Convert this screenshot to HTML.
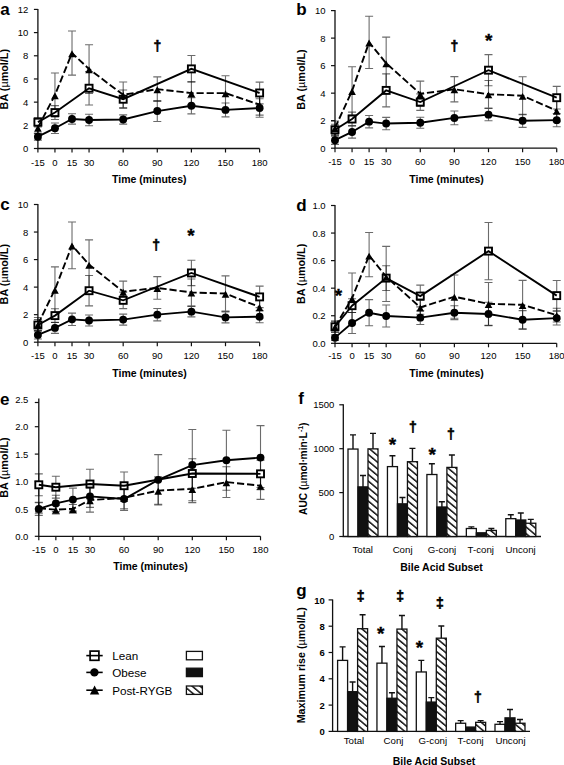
<!DOCTYPE html>
<html><head><meta charset="utf-8"><style>
html,body{margin:0;padding:0;background:#fff;}
svg{display:block;font-family:"Liberation Sans", sans-serif;}
</style></head><body>
<svg width="564" height="765" viewBox="0 0 564 765" font-family='"Liberation Sans", sans-serif' fill="#000">
<defs><pattern id="hatch" patternUnits="userSpaceOnUse" width="5.1" height="5.1" patternTransform="rotate(-50)"><rect width="5.1" height="5.1" fill="#fff"/><rect width="1.5" height="5.1" fill="#111"/></pattern></defs>
<path d="M37.9 8.92V148.5H259.62" fill="none" stroke="#111" stroke-width="1.3"/>
<path d="M33.9 148.5H37.9" stroke="#111" stroke-width="1.2"/>
<text transform="translate(28.4,152.1) scale(1,1.04)" font-size="9.5" font-weight="normal" text-anchor="end" >0</text>
<path d="M33.9 125.32H37.9" stroke="#111" stroke-width="1.2"/>
<text transform="translate(28.4,128.92) scale(1,1.04)" font-size="9.5" font-weight="normal" text-anchor="end" >2</text>
<path d="M33.9 102.14H37.9" stroke="#111" stroke-width="1.2"/>
<text transform="translate(28.4,105.74) scale(1,1.04)" font-size="9.5" font-weight="normal" text-anchor="end" >4</text>
<path d="M33.9 78.96H37.9" stroke="#111" stroke-width="1.2"/>
<text transform="translate(28.4,82.56) scale(1,1.04)" font-size="9.5" font-weight="normal" text-anchor="end" >6</text>
<path d="M33.9 55.78H37.9" stroke="#111" stroke-width="1.2"/>
<text transform="translate(28.4,59.38) scale(1,1.04)" font-size="9.5" font-weight="normal" text-anchor="end" >8</text>
<path d="M33.9 32.6H37.9" stroke="#111" stroke-width="1.2"/>
<text transform="translate(28.4,36.2) scale(1,1.04)" font-size="9.5" font-weight="normal" text-anchor="end" >10</text>
<path d="M33.9 9.42H37.9" stroke="#111" stroke-width="1.2"/>
<text transform="translate(28.4,13.02) scale(1,1.04)" font-size="9.5" font-weight="normal" text-anchor="end" >12</text>
<path d="M37.9 148.5V152.5" stroke="#111" stroke-width="1.2"/>
<text transform="translate(37.9,165.5) scale(1,1.04)" font-size="9.5" font-weight="normal" text-anchor="middle" >-15</text>
<path d="M54.95 148.5V152.5" stroke="#111" stroke-width="1.2"/>
<text transform="translate(54.95,165.5) scale(1,1.04)" font-size="9.5" font-weight="normal" text-anchor="middle" >0</text>
<path d="M72.01 148.5V152.5" stroke="#111" stroke-width="1.2"/>
<text transform="translate(72.01,165.5) scale(1,1.04)" font-size="9.5" font-weight="normal" text-anchor="middle" >15</text>
<path d="M89.06 148.5V152.5" stroke="#111" stroke-width="1.2"/>
<text transform="translate(89.06,165.5) scale(1,1.04)" font-size="9.5" font-weight="normal" text-anchor="middle" >30</text>
<path d="M123.18 148.5V152.5" stroke="#111" stroke-width="1.2"/>
<text transform="translate(123.18,165.5) scale(1,1.04)" font-size="9.5" font-weight="normal" text-anchor="middle" >60</text>
<path d="M157.28 148.5V152.5" stroke="#111" stroke-width="1.2"/>
<text transform="translate(157.28,165.5) scale(1,1.04)" font-size="9.5" font-weight="normal" text-anchor="middle" >90</text>
<path d="M191.4 148.5V152.5" stroke="#111" stroke-width="1.2"/>
<text transform="translate(191.4,165.5) scale(1,1.04)" font-size="9.5" font-weight="normal" text-anchor="middle" >120</text>
<path d="M225.5 148.5V152.5" stroke="#111" stroke-width="1.2"/>
<text transform="translate(225.5,165.5) scale(1,1.04)" font-size="9.5" font-weight="normal" text-anchor="middle" >150</text>
<path d="M259.62 148.5V152.5" stroke="#111" stroke-width="1.2"/>
<text transform="translate(259.62,165.5) scale(1,1.04)" font-size="9.5" font-weight="normal" text-anchor="middle" >180</text>
<text x="149.25" y="183.1" font-size="10.5" font-weight="bold" text-anchor="middle" >Time (minutes)</text>
<text transform="translate(8.3,79.2) rotate(-90)" font-size="10.8" font-weight="bold" text-anchor="middle">BA (<tspan font-weight="normal">µ</tspan>mol/L)</text>
<text x="0.2" y="14.6" font-size="17" font-weight="bold" text-anchor="start" >a</text>
<path d="M37.9 117.55V126.83M33.9 117.55H41.9M33.9 126.83H41.9" stroke="#000" stroke-opacity="0.58" stroke-width="1.1" fill="none"/>
<path d="M54.95 105.62V119.53M50.95 105.62H58.95M50.95 119.53H58.95" stroke="#000" stroke-opacity="0.58" stroke-width="1.1" fill="none"/>
<path d="M89.06 71.43V105.04M85.06 71.43H93.06M85.06 105.04H93.06" stroke="#000" stroke-opacity="0.58" stroke-width="1.1" fill="none"/>
<path d="M123.18 89.97V108.51M119.18 89.97H127.18M119.18 108.51H127.18" stroke="#000" stroke-opacity="0.58" stroke-width="1.1" fill="none"/>
<path d="M191.4 55.43V82.32M187.4 55.43H195.4M187.4 82.32H195.4" stroke="#000" stroke-opacity="0.58" stroke-width="1.1" fill="none"/>
<path d="M259.62 82.09V103.88M255.62 82.09H263.62M255.62 103.88H263.62" stroke="#000" stroke-opacity="0.58" stroke-width="1.1" fill="none"/>
<path d="M37.9 133.2V140.16M33.9 133.2H41.9M33.9 140.16H41.9" stroke="#000" stroke-opacity="0.58" stroke-width="1.1" fill="none"/>
<path d="M54.95 123V133.43M50.95 123H58.95M50.95 133.43H58.95" stroke="#000" stroke-opacity="0.58" stroke-width="1.1" fill="none"/>
<path d="M72.01 113.73V124.16M68.01 113.73H76.01M68.01 124.16H76.01" stroke="#000" stroke-opacity="0.58" stroke-width="1.1" fill="none"/>
<path d="M89.06 114.19V125.78M85.06 114.19H93.06M85.06 125.78H93.06" stroke="#000" stroke-opacity="0.58" stroke-width="1.1" fill="none"/>
<path d="M123.18 114.89V124.16M119.18 114.89H127.18M119.18 124.16H127.18" stroke="#000" stroke-opacity="0.58" stroke-width="1.1" fill="none"/>
<path d="M157.28 100.63V121.5M153.28 100.63H161.28M153.28 121.5H161.28" stroke="#000" stroke-opacity="0.58" stroke-width="1.1" fill="none"/>
<path d="M191.4 97.62V113.85M187.4 97.62H195.4M187.4 113.85H195.4" stroke="#000" stroke-opacity="0.58" stroke-width="1.1" fill="none"/>
<path d="M225.5 102.95V116.86M221.5 102.95H229.5M221.5 116.86H229.5" stroke="#000" stroke-opacity="0.58" stroke-width="1.1" fill="none"/>
<path d="M259.62 98.78V117.32M255.62 98.78H263.62M255.62 117.32H263.62" stroke="#000" stroke-opacity="0.58" stroke-width="1.1" fill="none"/>
<path d="M37.9 121.82V133.41M33.9 121.82H41.9M33.9 133.41H41.9" stroke="#000" stroke-opacity="0.58" stroke-width="1.1" fill="none"/>
<path d="M54.95 73.03V117.07M50.95 73.03H58.95M50.95 117.07H58.95" stroke="#000" stroke-opacity="0.58" stroke-width="1.1" fill="none"/>
<path d="M72.01 31.07V75.11M68.01 31.07H76.01M68.01 75.11H76.01" stroke="#000" stroke-opacity="0.58" stroke-width="1.1" fill="none"/>
<path d="M89.06 44.75V93.43M85.06 44.75H93.06M85.06 93.43H93.06" stroke="#000" stroke-opacity="0.58" stroke-width="1.1" fill="none"/>
<path d="M123.18 82.07V107.57M119.18 82.07H127.18M119.18 107.57H127.18" stroke="#000" stroke-opacity="0.58" stroke-width="1.1" fill="none"/>
<path d="M157.28 76.85V101.42M153.28 76.85H161.28M153.28 101.42H161.28" stroke="#000" stroke-opacity="0.58" stroke-width="1.1" fill="none"/>
<path d="M191.4 81.49V104.67M187.4 81.49H195.4M187.4 104.67H195.4" stroke="#000" stroke-opacity="0.58" stroke-width="1.1" fill="none"/>
<path d="M225.5 75.69V110.46M221.5 75.69H229.5M221.5 110.46H229.5" stroke="#000" stroke-opacity="0.58" stroke-width="1.1" fill="none"/>
<path d="M259.62 94.24V115.1M255.62 94.24H263.62M255.62 115.1H263.62" stroke="#000" stroke-opacity="0.58" stroke-width="1.1" fill="none"/>
<rect x="34.4" y="118.69" width="7" height="7" fill="#fff"/>
<rect x="51.45" y="109.07" width="7" height="7" fill="#fff"/>
<rect x="85.56" y="84.73" width="7" height="7" fill="#fff"/>
<rect x="119.68" y="95.74" width="7" height="7" fill="#fff"/>
<rect x="187.9" y="65.38" width="7" height="7" fill="#fff"/>
<rect x="256.12" y="89.48" width="7" height="7" fill="#fff"/>
<polyline points="37.9,122.19 54.95,112.57 89.06,88.23 123.18,99.24 191.4,68.88 259.62,92.98" fill="none" stroke="#000" stroke-width="1.9" />
<polyline points="37.9,136.68 54.95,128.22 72.01,118.95 89.06,119.99 123.18,119.53 157.28,111.06 191.4,105.73 225.5,109.91 259.62,108.05" fill="none" stroke="#000" stroke-width="1.9" />
<polyline points="37.9,127.62 54.95,95.05 72.01,53.09 89.06,69.09 123.18,94.82 157.28,89.14 191.4,93.08 225.5,93.08 259.62,104.67" fill="none" stroke="#000" stroke-width="1.9" stroke-dasharray="7.2 2.9"/>
<path d="M37.9 124.82L41.7 131.72H34.1Z" fill="#000"/>
<path d="M54.95 92.25L58.75 99.15H51.16Z" fill="#000"/>
<path d="M72.01 50.29L75.81 57.19H68.21Z" fill="#000"/>
<path d="M89.06 66.29L92.86 73.19H85.27Z" fill="#000"/>
<path d="M123.18 92.02L126.98 98.92H119.38Z" fill="#000"/>
<path d="M157.28 86.34L161.09 93.24H153.48Z" fill="#000"/>
<path d="M191.4 90.28L195.2 97.18H187.59Z" fill="#000"/>
<path d="M225.5 90.28L229.31 97.18H221.7Z" fill="#000"/>
<path d="M259.62 101.87L263.42 108.77H255.81Z" fill="#000"/>
<circle cx="37.9" cy="136.68" r="3.95" fill="#000"/>
<circle cx="54.95" cy="128.22" r="3.95" fill="#000"/>
<circle cx="72.01" cy="118.95" r="3.95" fill="#000"/>
<circle cx="89.06" cy="119.99" r="3.95" fill="#000"/>
<circle cx="123.18" cy="119.53" r="3.95" fill="#000"/>
<circle cx="157.28" cy="111.06" r="3.95" fill="#000"/>
<circle cx="191.4" cy="105.73" r="3.95" fill="#000"/>
<circle cx="225.5" cy="109.91" r="3.95" fill="#000"/>
<circle cx="259.62" cy="108.05" r="3.95" fill="#000"/>
<rect x="34.4" y="118.69" width="7" height="7" fill="none" stroke="#000" stroke-width="1.9"/>
<rect x="51.45" y="109.07" width="7" height="7" fill="none" stroke="#000" stroke-width="1.9"/>
<rect x="85.56" y="84.73" width="7" height="7" fill="none" stroke="#000" stroke-width="1.9"/>
<rect x="119.68" y="95.74" width="7" height="7" fill="none" stroke="#000" stroke-width="1.9"/>
<rect x="187.9" y="65.38" width="7" height="7" fill="none" stroke="#000" stroke-width="1.9"/>
<rect x="256.12" y="89.48" width="7" height="7" fill="none" stroke="#000" stroke-width="1.9"/>
<text x="157.3" y="51" font-size="14" font-weight="bold" text-anchor="middle" stroke="#000" stroke-width="0.6">†</text>
<path d="M335 10.1V148.2H556.72" fill="none" stroke="#111" stroke-width="1.3"/>
<path d="M331 148.2H335" stroke="#111" stroke-width="1.2"/>
<text transform="translate(325.6,151.8) scale(1,1.04)" font-size="9.5" font-weight="normal" text-anchor="end" >0</text>
<path d="M331 120.68H335" stroke="#111" stroke-width="1.2"/>
<text transform="translate(325.6,124.28) scale(1,1.04)" font-size="9.5" font-weight="normal" text-anchor="end" >2</text>
<path d="M331 93.16H335" stroke="#111" stroke-width="1.2"/>
<text transform="translate(325.6,96.76) scale(1,1.04)" font-size="9.5" font-weight="normal" text-anchor="end" >4</text>
<path d="M331 65.64H335" stroke="#111" stroke-width="1.2"/>
<text transform="translate(325.6,69.24) scale(1,1.04)" font-size="9.5" font-weight="normal" text-anchor="end" >6</text>
<path d="M331 38.12H335" stroke="#111" stroke-width="1.2"/>
<text transform="translate(325.6,41.72) scale(1,1.04)" font-size="9.5" font-weight="normal" text-anchor="end" >8</text>
<path d="M331 10.6H335" stroke="#111" stroke-width="1.2"/>
<text transform="translate(325.6,14.2) scale(1,1.04)" font-size="9.5" font-weight="normal" text-anchor="end" >10</text>
<path d="M335 148.2V152.2" stroke="#111" stroke-width="1.2"/>
<text transform="translate(335,165.4) scale(1,1.04)" font-size="9.5" font-weight="normal" text-anchor="middle" >-15</text>
<path d="M352.06 148.2V152.2" stroke="#111" stroke-width="1.2"/>
<text transform="translate(352.06,165.4) scale(1,1.04)" font-size="9.5" font-weight="normal" text-anchor="middle" >0</text>
<path d="M369.11 148.2V152.2" stroke="#111" stroke-width="1.2"/>
<text transform="translate(369.11,165.4) scale(1,1.04)" font-size="9.5" font-weight="normal" text-anchor="middle" >15</text>
<path d="M386.17 148.2V152.2" stroke="#111" stroke-width="1.2"/>
<text transform="translate(386.17,165.4) scale(1,1.04)" font-size="9.5" font-weight="normal" text-anchor="middle" >30</text>
<path d="M420.27 148.2V152.2" stroke="#111" stroke-width="1.2"/>
<text transform="translate(420.27,165.4) scale(1,1.04)" font-size="9.5" font-weight="normal" text-anchor="middle" >60</text>
<path d="M454.38 148.2V152.2" stroke="#111" stroke-width="1.2"/>
<text transform="translate(454.38,165.4) scale(1,1.04)" font-size="9.5" font-weight="normal" text-anchor="middle" >90</text>
<path d="M488.5 148.2V152.2" stroke="#111" stroke-width="1.2"/>
<text transform="translate(488.5,165.4) scale(1,1.04)" font-size="9.5" font-weight="normal" text-anchor="middle" >120</text>
<path d="M522.61 148.2V152.2" stroke="#111" stroke-width="1.2"/>
<text transform="translate(522.61,165.4) scale(1,1.04)" font-size="9.5" font-weight="normal" text-anchor="middle" >150</text>
<path d="M556.72 148.2V152.2" stroke="#111" stroke-width="1.2"/>
<text transform="translate(556.72,165.4) scale(1,1.04)" font-size="9.5" font-weight="normal" text-anchor="middle" >180</text>
<text x="446.6" y="182.8" font-size="10.5" font-weight="bold" text-anchor="middle" >Time (minutes)</text>
<text transform="translate(304.7,79.5) rotate(-90)" font-size="10.8" font-weight="bold" text-anchor="middle">BA (<tspan font-weight="normal">µ</tspan>mol/L)</text>
<text x="296.3" y="14.6" font-size="17" font-weight="bold" text-anchor="start" >b</text>
<path d="M335 124.26V135.27M331 124.26H339M331 135.27H339" stroke="#000" stroke-opacity="0.58" stroke-width="1.1" fill="none"/>
<path d="M352.06 112.15V125.91M348.06 112.15H356.06M348.06 125.91H356.06" stroke="#000" stroke-opacity="0.58" stroke-width="1.1" fill="none"/>
<path d="M386.17 73.9V106.92M382.17 73.9H390.17M382.17 106.92H390.17" stroke="#000" stroke-opacity="0.58" stroke-width="1.1" fill="none"/>
<path d="M420.27 93.85V110.36M416.27 93.85H424.27M416.27 110.36H424.27" stroke="#000" stroke-opacity="0.58" stroke-width="1.1" fill="none"/>
<path d="M488.5 54.63V85.73M484.5 54.63H492.5M484.5 85.73H492.5" stroke="#000" stroke-opacity="0.58" stroke-width="1.1" fill="none"/>
<path d="M556.72 86.42V108.98M552.72 86.42H560.72M552.72 108.98H560.72" stroke="#000" stroke-opacity="0.58" stroke-width="1.1" fill="none"/>
<path d="M335 136.09V144.35M331 136.09H339M331 144.35H339" stroke="#000" stroke-opacity="0.58" stroke-width="1.1" fill="none"/>
<path d="M352.06 125.77V138.16M348.06 125.77H356.06M348.06 138.16H356.06" stroke="#000" stroke-opacity="0.58" stroke-width="1.1" fill="none"/>
<path d="M369.11 115.45V127.84M365.11 115.45H373.11M365.11 127.84H373.11" stroke="#000" stroke-opacity="0.58" stroke-width="1.1" fill="none"/>
<path d="M386.17 117.38V129.76M382.17 117.38H390.17M382.17 129.76H390.17" stroke="#000" stroke-opacity="0.58" stroke-width="1.1" fill="none"/>
<path d="M420.27 117.24V128.25M416.27 117.24H424.27M416.27 128.25H424.27" stroke="#000" stroke-opacity="0.58" stroke-width="1.1" fill="none"/>
<path d="M454.38 111.05V124.81M450.38 111.05H458.38M450.38 124.81H458.38" stroke="#000" stroke-opacity="0.58" stroke-width="1.1" fill="none"/>
<path d="M488.5 108.43V120.82M484.5 108.43H492.5M484.5 120.82H492.5" stroke="#000" stroke-opacity="0.58" stroke-width="1.1" fill="none"/>
<path d="M522.61 114.21V127.42M518.61 114.21H526.61M518.61 127.42H526.61" stroke="#000" stroke-opacity="0.58" stroke-width="1.1" fill="none"/>
<path d="M556.72 113.52V126.73M552.72 113.52H560.72M552.72 126.73H560.72" stroke="#000" stroke-opacity="0.58" stroke-width="1.1" fill="none"/>
<path d="M335 121.04V134.8M331 121.04H339M331 134.8H339" stroke="#000" stroke-opacity="0.58" stroke-width="1.1" fill="none"/>
<path d="M352.06 66.69V115.13M348.06 66.69H356.06M348.06 115.13H356.06" stroke="#000" stroke-opacity="0.58" stroke-width="1.1" fill="none"/>
<path d="M369.11 16.19V68.48M365.11 16.19H373.11M365.11 68.48H373.11" stroke="#000" stroke-opacity="0.58" stroke-width="1.1" fill="none"/>
<path d="M386.17 37.11V89.4M382.17 37.11H390.17M382.17 89.4H390.17" stroke="#000" stroke-opacity="0.58" stroke-width="1.1" fill="none"/>
<path d="M420.27 81.14V106.46M416.27 81.14H424.27M416.27 106.46H424.27" stroke="#000" stroke-opacity="0.58" stroke-width="1.1" fill="none"/>
<path d="M454.38 76.6V101.92M450.38 76.6H458.38M450.38 101.92H458.38" stroke="#000" stroke-opacity="0.58" stroke-width="1.1" fill="none"/>
<path d="M488.5 80.45V107.97M484.5 80.45H492.5M484.5 107.97H492.5" stroke="#000" stroke-opacity="0.58" stroke-width="1.1" fill="none"/>
<path d="M522.61 76.74V114.71M518.61 76.74H526.61M518.61 114.71H526.61" stroke="#000" stroke-opacity="0.58" stroke-width="1.1" fill="none"/>
<path d="M556.72 99.72V121.73M552.72 99.72H560.72M552.72 121.73H560.72" stroke="#000" stroke-opacity="0.58" stroke-width="1.1" fill="none"/>
<rect x="331.5" y="126.26" width="7" height="7" fill="#fff"/>
<rect x="348.56" y="115.53" width="7" height="7" fill="#fff"/>
<rect x="382.67" y="86.91" width="7" height="7" fill="#fff"/>
<rect x="416.77" y="98.6" width="7" height="7" fill="#fff"/>
<rect x="485" y="66.68" width="7" height="7" fill="#fff"/>
<rect x="553.22" y="94.2" width="7" height="7" fill="#fff"/>
<polyline points="335,129.76 352.06,119.03 386.17,90.41 420.27,102.1 488.5,70.18 556.72,97.7" fill="none" stroke="#000" stroke-width="1.9" />
<polyline points="335,140.22 352.06,131.96 369.11,121.64 386.17,123.57 420.27,122.74 454.38,117.93 488.5,114.63 522.61,120.82 556.72,120.13" fill="none" stroke="#000" stroke-width="1.9" />
<polyline points="335,127.92 352.06,90.91 369.11,42.34 386.17,63.25 420.27,93.8 454.38,89.26 488.5,94.21 522.61,95.72 556.72,110.72" fill="none" stroke="#000" stroke-width="1.9" stroke-dasharray="7.2 2.9"/>
<path d="M335 125.12L338.8 132.02H331.2Z" fill="#000"/>
<path d="M352.06 88.11L355.86 95.01H348.25Z" fill="#000"/>
<path d="M369.11 39.54L372.91 46.44H365.31Z" fill="#000"/>
<path d="M386.17 60.45L389.97 67.35H382.37Z" fill="#000"/>
<path d="M420.27 91L424.07 97.9H416.47Z" fill="#000"/>
<path d="M454.38 86.46L458.19 93.36H450.58Z" fill="#000"/>
<path d="M488.5 91.41L492.3 98.31H484.69Z" fill="#000"/>
<path d="M522.61 92.92L526.4 99.82H518.81Z" fill="#000"/>
<path d="M556.72 107.92L560.51 114.82H552.92Z" fill="#000"/>
<circle cx="335" cy="140.22" r="3.95" fill="#000"/>
<circle cx="352.06" cy="131.96" r="3.95" fill="#000"/>
<circle cx="369.11" cy="121.64" r="3.95" fill="#000"/>
<circle cx="386.17" cy="123.57" r="3.95" fill="#000"/>
<circle cx="420.27" cy="122.74" r="3.95" fill="#000"/>
<circle cx="454.38" cy="117.93" r="3.95" fill="#000"/>
<circle cx="488.5" cy="114.63" r="3.95" fill="#000"/>
<circle cx="522.61" cy="120.82" r="3.95" fill="#000"/>
<circle cx="556.72" cy="120.13" r="3.95" fill="#000"/>
<rect x="331.5" y="126.26" width="7" height="7" fill="none" stroke="#000" stroke-width="1.9"/>
<rect x="348.56" y="115.53" width="7" height="7" fill="none" stroke="#000" stroke-width="1.9"/>
<rect x="382.67" y="86.91" width="7" height="7" fill="none" stroke="#000" stroke-width="1.9"/>
<rect x="416.77" y="98.6" width="7" height="7" fill="none" stroke="#000" stroke-width="1.9"/>
<rect x="485" y="66.68" width="7" height="7" fill="none" stroke="#000" stroke-width="1.9"/>
<rect x="553.22" y="94.2" width="7" height="7" fill="none" stroke="#000" stroke-width="1.9"/>
<text x="454.4" y="51" font-size="14" font-weight="bold" text-anchor="middle" stroke="#000" stroke-width="0.6">†</text>
<text x="488.8" y="47.4" font-size="19" font-weight="bold" text-anchor="middle" stroke="#000" stroke-width="0.3">*</text>
<path d="M37.9 204V342.2H259.62" fill="none" stroke="#111" stroke-width="1.3"/>
<path d="M33.9 342.2H37.9" stroke="#111" stroke-width="1.2"/>
<text transform="translate(28.4,345.8) scale(1,1.04)" font-size="9.5" font-weight="normal" text-anchor="end" >0</text>
<path d="M33.9 314.66H37.9" stroke="#111" stroke-width="1.2"/>
<text transform="translate(28.4,318.26) scale(1,1.04)" font-size="9.5" font-weight="normal" text-anchor="end" >2</text>
<path d="M33.9 287.12H37.9" stroke="#111" stroke-width="1.2"/>
<text transform="translate(28.4,290.72) scale(1,1.04)" font-size="9.5" font-weight="normal" text-anchor="end" >4</text>
<path d="M33.9 259.58H37.9" stroke="#111" stroke-width="1.2"/>
<text transform="translate(28.4,263.18) scale(1,1.04)" font-size="9.5" font-weight="normal" text-anchor="end" >6</text>
<path d="M33.9 232.04H37.9" stroke="#111" stroke-width="1.2"/>
<text transform="translate(28.4,235.64) scale(1,1.04)" font-size="9.5" font-weight="normal" text-anchor="end" >8</text>
<path d="M33.9 204.5H37.9" stroke="#111" stroke-width="1.2"/>
<text transform="translate(28.4,208.1) scale(1,1.04)" font-size="9.5" font-weight="normal" text-anchor="end" >10</text>
<path d="M37.9 342.2V346.2" stroke="#111" stroke-width="1.2"/>
<text transform="translate(37.9,358.8) scale(1,1.04)" font-size="9.5" font-weight="normal" text-anchor="middle" >-15</text>
<path d="M54.95 342.2V346.2" stroke="#111" stroke-width="1.2"/>
<text transform="translate(54.95,358.8) scale(1,1.04)" font-size="9.5" font-weight="normal" text-anchor="middle" >0</text>
<path d="M72.01 342.2V346.2" stroke="#111" stroke-width="1.2"/>
<text transform="translate(72.01,358.8) scale(1,1.04)" font-size="9.5" font-weight="normal" text-anchor="middle" >15</text>
<path d="M89.06 342.2V346.2" stroke="#111" stroke-width="1.2"/>
<text transform="translate(89.06,358.8) scale(1,1.04)" font-size="9.5" font-weight="normal" text-anchor="middle" >30</text>
<path d="M123.18 342.2V346.2" stroke="#111" stroke-width="1.2"/>
<text transform="translate(123.18,358.8) scale(1,1.04)" font-size="9.5" font-weight="normal" text-anchor="middle" >60</text>
<path d="M157.28 342.2V346.2" stroke="#111" stroke-width="1.2"/>
<text transform="translate(157.28,358.8) scale(1,1.04)" font-size="9.5" font-weight="normal" text-anchor="middle" >90</text>
<path d="M191.4 342.2V346.2" stroke="#111" stroke-width="1.2"/>
<text transform="translate(191.4,358.8) scale(1,1.04)" font-size="9.5" font-weight="normal" text-anchor="middle" >120</text>
<path d="M225.5 342.2V346.2" stroke="#111" stroke-width="1.2"/>
<text transform="translate(225.5,358.8) scale(1,1.04)" font-size="9.5" font-weight="normal" text-anchor="middle" >150</text>
<path d="M259.62 342.2V346.2" stroke="#111" stroke-width="1.2"/>
<text transform="translate(259.62,358.8) scale(1,1.04)" font-size="9.5" font-weight="normal" text-anchor="middle" >180</text>
<text x="149.5" y="377.2" font-size="10.5" font-weight="bold" text-anchor="middle" >Time (minutes)</text>
<text transform="translate(8.4,274.2) rotate(-90)" font-size="10.8" font-weight="bold" text-anchor="middle">BA (<tspan font-weight="normal">µ</tspan>mol/L)</text>
<text x="0.3" y="210" font-size="17" font-weight="bold" text-anchor="start" >c</text>
<path d="M37.9 319.48V330.5M33.9 319.48H41.9M33.9 330.5H41.9" stroke="#000" stroke-opacity="0.58" stroke-width="1.1" fill="none"/>
<path d="M54.95 308.74V322.51M50.95 308.74H58.95M50.95 322.51H58.95" stroke="#000" stroke-opacity="0.58" stroke-width="1.1" fill="none"/>
<path d="M89.06 275.55V305.85M85.06 275.55H93.06M85.06 305.85H93.06" stroke="#000" stroke-opacity="0.58" stroke-width="1.1" fill="none"/>
<path d="M123.18 292.08V308.6M119.18 292.08H127.18M119.18 308.6H127.18" stroke="#000" stroke-opacity="0.58" stroke-width="1.1" fill="none"/>
<path d="M191.4 260.27V285.61M187.4 260.27H195.4M187.4 285.61H195.4" stroke="#000" stroke-opacity="0.58" stroke-width="1.1" fill="none"/>
<path d="M259.62 286.16V307.64M255.62 286.16H263.62M255.62 307.64H263.62" stroke="#000" stroke-opacity="0.58" stroke-width="1.1" fill="none"/>
<path d="M37.9 330.77V339.03M33.9 330.77H41.9M33.9 339.03H41.9" stroke="#000" stroke-opacity="0.58" stroke-width="1.1" fill="none"/>
<path d="M54.95 322.37V333.39M50.95 322.37H58.95M50.95 333.39H58.95" stroke="#000" stroke-opacity="0.58" stroke-width="1.1" fill="none"/>
<path d="M72.01 313.15V325.54M68.01 313.15H76.01M68.01 325.54H76.01" stroke="#000" stroke-opacity="0.58" stroke-width="1.1" fill="none"/>
<path d="M89.06 314.94V325.95M85.06 314.94H93.06M85.06 325.95H93.06" stroke="#000" stroke-opacity="0.58" stroke-width="1.1" fill="none"/>
<path d="M123.18 314.11V325.13M119.18 314.11H127.18M119.18 325.13H127.18" stroke="#000" stroke-opacity="0.58" stroke-width="1.1" fill="none"/>
<path d="M157.28 308.46V320.86M153.28 308.46H161.28M153.28 320.86H161.28" stroke="#000" stroke-opacity="0.58" stroke-width="1.1" fill="none"/>
<path d="M191.4 306.4V316.86M187.4 306.4H195.4M187.4 316.86H195.4" stroke="#000" stroke-opacity="0.58" stroke-width="1.1" fill="none"/>
<path d="M225.5 311.91V322.92M221.5 311.91H229.5M221.5 322.92H229.5" stroke="#000" stroke-opacity="0.58" stroke-width="1.1" fill="none"/>
<path d="M259.62 310.67V322.78M255.62 310.67H263.62M255.62 322.78H263.62" stroke="#000" stroke-opacity="0.58" stroke-width="1.1" fill="none"/>
<path d="M37.9 317.5V331.27M33.9 317.5H41.9M33.9 331.27H41.9" stroke="#000" stroke-opacity="0.58" stroke-width="1.1" fill="none"/>
<path d="M54.95 266.83V312.27M50.95 266.83H58.95M50.95 312.27H58.95" stroke="#000" stroke-opacity="0.58" stroke-width="1.1" fill="none"/>
<path d="M72.01 221.94V268.76M68.01 221.94H76.01M68.01 268.76H76.01" stroke="#000" stroke-opacity="0.58" stroke-width="1.1" fill="none"/>
<path d="M89.06 239.84V289.41M85.06 239.84H93.06M85.06 289.41H93.06" stroke="#000" stroke-opacity="0.58" stroke-width="1.1" fill="none"/>
<path d="M123.18 281.15V302.08M119.18 281.15H127.18M119.18 302.08H127.18" stroke="#000" stroke-opacity="0.58" stroke-width="1.1" fill="none"/>
<path d="M157.28 276.61V299.19M153.28 276.61H161.28M153.28 299.19H161.28" stroke="#000" stroke-opacity="0.58" stroke-width="1.1" fill="none"/>
<path d="M191.4 278.95V305.94M187.4 278.95H195.4M187.4 305.94H195.4" stroke="#000" stroke-opacity="0.58" stroke-width="1.1" fill="none"/>
<path d="M225.5 275.92V311.17M221.5 275.92H229.5M221.5 311.17H229.5" stroke="#000" stroke-opacity="0.58" stroke-width="1.1" fill="none"/>
<path d="M259.62 296.02V318.05M255.62 296.02H263.62M255.62 318.05H263.62" stroke="#000" stroke-opacity="0.58" stroke-width="1.1" fill="none"/>
<rect x="34.4" y="321.49" width="7" height="7" fill="#fff"/>
<rect x="51.45" y="312.12" width="7" height="7" fill="#fff"/>
<rect x="85.56" y="287.2" width="7" height="7" fill="#fff"/>
<rect x="119.68" y="296.84" width="7" height="7" fill="#fff"/>
<rect x="187.9" y="269.44" width="7" height="7" fill="#fff"/>
<rect x="256.12" y="293.4" width="7" height="7" fill="#fff"/>
<polyline points="37.9,324.99 54.95,315.62 89.06,290.7 123.18,300.34 191.4,272.94 259.62,296.9" fill="none" stroke="#000" stroke-width="1.9" />
<polyline points="37.9,334.9 54.95,327.88 72.01,319.34 89.06,320.44 123.18,319.62 157.28,314.66 191.4,311.63 225.5,317.41 259.62,316.73" fill="none" stroke="#000" stroke-width="1.9" />
<polyline points="37.9,324.39 54.95,289.55 72.01,245.35 89.06,264.63 123.18,291.61 157.28,287.9 191.4,292.44 225.5,293.54 259.62,307.04" fill="none" stroke="#000" stroke-width="1.9" stroke-dasharray="7.2 2.9"/>
<path d="M37.9 321.59L41.7 328.49H34.1Z" fill="#000"/>
<path d="M54.95 286.75L58.75 293.65H51.16Z" fill="#000"/>
<path d="M72.01 242.55L75.81 249.45H68.21Z" fill="#000"/>
<path d="M89.06 261.83L92.86 268.73H85.27Z" fill="#000"/>
<path d="M123.18 288.81L126.98 295.71H119.38Z" fill="#000"/>
<path d="M157.28 285.1L161.09 292H153.48Z" fill="#000"/>
<path d="M191.4 289.64L195.2 296.54H187.59Z" fill="#000"/>
<path d="M225.5 290.74L229.31 297.64H221.7Z" fill="#000"/>
<path d="M259.62 304.24L263.42 311.14H255.81Z" fill="#000"/>
<circle cx="37.9" cy="334.9" r="3.95" fill="#000"/>
<circle cx="54.95" cy="327.88" r="3.95" fill="#000"/>
<circle cx="72.01" cy="319.34" r="3.95" fill="#000"/>
<circle cx="89.06" cy="320.44" r="3.95" fill="#000"/>
<circle cx="123.18" cy="319.62" r="3.95" fill="#000"/>
<circle cx="157.28" cy="314.66" r="3.95" fill="#000"/>
<circle cx="191.4" cy="311.63" r="3.95" fill="#000"/>
<circle cx="225.5" cy="317.41" r="3.95" fill="#000"/>
<circle cx="259.62" cy="316.73" r="3.95" fill="#000"/>
<rect x="34.4" y="321.49" width="7" height="7" fill="none" stroke="#000" stroke-width="1.9"/>
<rect x="51.45" y="312.12" width="7" height="7" fill="none" stroke="#000" stroke-width="1.9"/>
<rect x="85.56" y="287.2" width="7" height="7" fill="none" stroke="#000" stroke-width="1.9"/>
<rect x="119.68" y="296.84" width="7" height="7" fill="none" stroke="#000" stroke-width="1.9"/>
<rect x="187.9" y="269.44" width="7" height="7" fill="none" stroke="#000" stroke-width="1.9"/>
<rect x="256.12" y="293.4" width="7" height="7" fill="none" stroke="#000" stroke-width="1.9"/>
<text x="156.2" y="250.1" font-size="14" font-weight="bold" text-anchor="middle" stroke="#000" stroke-width="0.6">†</text>
<text x="191" y="241.8" font-size="19" font-weight="bold" text-anchor="middle" stroke="#000" stroke-width="0.3">*</text>
<path d="M335 205V343.3H556.72" fill="none" stroke="#111" stroke-width="1.3"/>
<path d="M331 343.3H335" stroke="#111" stroke-width="1.2"/>
<text transform="translate(325.6,346.9) scale(1,1.04)" font-size="9.5" font-weight="normal" text-anchor="end" >0.0</text>
<path d="M331 315.74H335" stroke="#111" stroke-width="1.2"/>
<text transform="translate(325.6,319.34) scale(1,1.04)" font-size="9.5" font-weight="normal" text-anchor="end" >0.2</text>
<path d="M331 288.18H335" stroke="#111" stroke-width="1.2"/>
<text transform="translate(325.6,291.78) scale(1,1.04)" font-size="9.5" font-weight="normal" text-anchor="end" >0.4</text>
<path d="M331 260.62H335" stroke="#111" stroke-width="1.2"/>
<text transform="translate(325.6,264.22) scale(1,1.04)" font-size="9.5" font-weight="normal" text-anchor="end" >0.6</text>
<path d="M331 233.06H335" stroke="#111" stroke-width="1.2"/>
<text transform="translate(325.6,236.66) scale(1,1.04)" font-size="9.5" font-weight="normal" text-anchor="end" >0.8</text>
<path d="M331 205.5H335" stroke="#111" stroke-width="1.2"/>
<text transform="translate(325.6,209.1) scale(1,1.04)" font-size="9.5" font-weight="normal" text-anchor="end" >1.0</text>
<path d="M335 343.3V347.3" stroke="#111" stroke-width="1.2"/>
<text transform="translate(335,358.8) scale(1,1.04)" font-size="9.5" font-weight="normal" text-anchor="middle" >-15</text>
<path d="M352.06 343.3V347.3" stroke="#111" stroke-width="1.2"/>
<text transform="translate(352.06,358.8) scale(1,1.04)" font-size="9.5" font-weight="normal" text-anchor="middle" >0</text>
<path d="M369.11 343.3V347.3" stroke="#111" stroke-width="1.2"/>
<text transform="translate(369.11,358.8) scale(1,1.04)" font-size="9.5" font-weight="normal" text-anchor="middle" >15</text>
<path d="M386.17 343.3V347.3" stroke="#111" stroke-width="1.2"/>
<text transform="translate(386.17,358.8) scale(1,1.04)" font-size="9.5" font-weight="normal" text-anchor="middle" >30</text>
<path d="M420.27 343.3V347.3" stroke="#111" stroke-width="1.2"/>
<text transform="translate(420.27,358.8) scale(1,1.04)" font-size="9.5" font-weight="normal" text-anchor="middle" >60</text>
<path d="M454.38 343.3V347.3" stroke="#111" stroke-width="1.2"/>
<text transform="translate(454.38,358.8) scale(1,1.04)" font-size="9.5" font-weight="normal" text-anchor="middle" >90</text>
<path d="M488.5 343.3V347.3" stroke="#111" stroke-width="1.2"/>
<text transform="translate(488.5,358.8) scale(1,1.04)" font-size="9.5" font-weight="normal" text-anchor="middle" >120</text>
<path d="M522.61 343.3V347.3" stroke="#111" stroke-width="1.2"/>
<text transform="translate(522.61,358.8) scale(1,1.04)" font-size="9.5" font-weight="normal" text-anchor="middle" >150</text>
<path d="M556.72 343.3V347.3" stroke="#111" stroke-width="1.2"/>
<text transform="translate(556.72,358.8) scale(1,1.04)" font-size="9.5" font-weight="normal" text-anchor="middle" >180</text>
<text x="446.6" y="377.2" font-size="10.5" font-weight="bold" text-anchor="middle" >Time (minutes)</text>
<text transform="translate(305,273.9) rotate(-90)" font-size="10.8" font-weight="bold" text-anchor="middle">BA (<tspan font-weight="normal">µ</tspan>mol/L)</text>
<text x="296.3" y="210.5" font-size="17" font-weight="bold" text-anchor="start" >d</text>
<path d="M335 321.25V332.28M331 321.25H339M331 332.28H339" stroke="#000" stroke-opacity="0.58" stroke-width="1.1" fill="none"/>
<path d="M352.06 298.79V312.57M348.06 298.79H356.06M348.06 312.57H356.06" stroke="#000" stroke-opacity="0.58" stroke-width="1.1" fill="none"/>
<path d="M386.17 265.72V290.52M382.17 265.72H390.17M382.17 290.52H390.17" stroke="#000" stroke-opacity="0.58" stroke-width="1.1" fill="none"/>
<path d="M420.27 285.15V306.92M416.27 285.15H424.27M416.27 306.92H424.27" stroke="#000" stroke-opacity="0.58" stroke-width="1.1" fill="none"/>
<path d="M488.5 222.45V279.77M484.5 222.45H492.5M484.5 279.77H492.5" stroke="#000" stroke-opacity="0.58" stroke-width="1.1" fill="none"/>
<path d="M556.72 280.46V310.78M552.72 280.46H560.72M552.72 310.78H560.72" stroke="#000" stroke-opacity="0.58" stroke-width="1.1" fill="none"/>
<path d="M335 334.89V340.41M331 334.89H339M331 340.41H339" stroke="#000" stroke-opacity="0.58" stroke-width="1.1" fill="none"/>
<path d="M352.06 312.57V333.52M348.06 312.57H356.06M348.06 333.52H356.06" stroke="#000" stroke-opacity="0.58" stroke-width="1.1" fill="none"/>
<path d="M369.11 299.62V325.8M365.11 299.62H373.11M365.11 325.8H373.11" stroke="#000" stroke-opacity="0.58" stroke-width="1.1" fill="none"/>
<path d="M386.17 304.99V327.04M382.17 304.99H390.17M382.17 327.04H390.17" stroke="#000" stroke-opacity="0.58" stroke-width="1.1" fill="none"/>
<path d="M420.27 310.78V324.56M416.27 310.78H424.27M416.27 324.56H424.27" stroke="#000" stroke-opacity="0.58" stroke-width="1.1" fill="none"/>
<path d="M454.38 305.82V319.6M450.38 305.82H458.38M450.38 319.6H458.38" stroke="#000" stroke-opacity="0.58" stroke-width="1.1" fill="none"/>
<path d="M488.5 302.24V325.66M484.5 302.24H492.5M484.5 325.66H492.5" stroke="#000" stroke-opacity="0.58" stroke-width="1.1" fill="none"/>
<path d="M522.61 310.64V328.83M518.61 310.64H526.61M518.61 328.83H526.61" stroke="#000" stroke-opacity="0.58" stroke-width="1.1" fill="none"/>
<path d="M556.72 311.19V324.97M552.72 311.19H560.72M552.72 324.97H560.72" stroke="#000" stroke-opacity="0.58" stroke-width="1.1" fill="none"/>
<path d="M335 321.07V332.09M331 321.07H339M331 332.09H339" stroke="#000" stroke-opacity="0.58" stroke-width="1.1" fill="none"/>
<path d="M352.06 272.97V323.68M348.06 272.97H356.06M348.06 323.68H356.06" stroke="#000" stroke-opacity="0.58" stroke-width="1.1" fill="none"/>
<path d="M369.11 232.46V276.69M365.11 232.46H373.11M365.11 276.69H373.11" stroke="#000" stroke-opacity="0.58" stroke-width="1.1" fill="none"/>
<path d="M386.17 246.38V301.5M382.17 246.38H390.17M382.17 301.5H390.17" stroke="#000" stroke-opacity="0.58" stroke-width="1.1" fill="none"/>
<path d="M420.27 300.53V314.31M416.27 300.53H424.27M416.27 314.31H424.27" stroke="#000" stroke-opacity="0.58" stroke-width="1.1" fill="none"/>
<path d="M454.38 275.04V318.31M450.38 275.04H458.38M450.38 318.31H458.38" stroke="#000" stroke-opacity="0.58" stroke-width="1.1" fill="none"/>
<path d="M488.5 282.48V325.2M484.5 282.48H492.5M484.5 325.2H492.5" stroke="#000" stroke-opacity="0.58" stroke-width="1.1" fill="none"/>
<path d="M522.61 280.41V329.2M518.61 280.41H526.61M518.61 329.2H526.61" stroke="#000" stroke-opacity="0.58" stroke-width="1.1" fill="none"/>
<path d="M556.72 308.25V322.03M552.72 308.25H560.72M552.72 322.03H560.72" stroke="#000" stroke-opacity="0.58" stroke-width="1.1" fill="none"/>
<rect x="331.5" y="323.26" width="7" height="7" fill="#fff"/>
<rect x="348.56" y="302.18" width="7" height="7" fill="#fff"/>
<rect x="382.67" y="274.62" width="7" height="7" fill="#fff"/>
<rect x="416.77" y="292.53" width="7" height="7" fill="#fff"/>
<rect x="485" y="247.61" width="7" height="7" fill="#fff"/>
<rect x="553.22" y="292.12" width="7" height="7" fill="#fff"/>
<polyline points="335,326.76 352.06,305.68 386.17,278.12 420.27,296.03 488.5,251.11 556.72,295.62" fill="none" stroke="#000" stroke-width="1.9" />
<polyline points="335,337.65 352.06,323.04 369.11,312.71 386.17,316.02 420.27,317.67 454.38,312.71 488.5,313.95 522.61,319.74 556.72,318.08" fill="none" stroke="#000" stroke-width="1.9" />
<polyline points="335,326.58 352.06,298.33 369.11,255.47 386.17,276.69 420.27,307.42 454.38,296.67 488.5,303.84 522.61,304.81 556.72,315.14" fill="none" stroke="#000" stroke-width="1.9" stroke-dasharray="7.2 2.9"/>
<path d="M335 323.78L338.8 330.68H331.2Z" fill="#000"/>
<path d="M352.06 295.53L355.86 302.43H348.25Z" fill="#000"/>
<path d="M369.11 252.67L372.91 259.57H365.31Z" fill="#000"/>
<path d="M386.17 273.89L389.97 280.79H382.37Z" fill="#000"/>
<path d="M420.27 304.62L424.07 311.52H416.47Z" fill="#000"/>
<path d="M454.38 293.87L458.19 300.77H450.58Z" fill="#000"/>
<path d="M488.5 301.04L492.3 307.94H484.69Z" fill="#000"/>
<path d="M522.61 302L526.4 308.91H518.81Z" fill="#000"/>
<path d="M556.72 312.34L560.51 319.24H552.92Z" fill="#000"/>
<circle cx="335" cy="337.65" r="3.95" fill="#000"/>
<circle cx="352.06" cy="323.04" r="3.95" fill="#000"/>
<circle cx="369.11" cy="312.71" r="3.95" fill="#000"/>
<circle cx="386.17" cy="316.02" r="3.95" fill="#000"/>
<circle cx="420.27" cy="317.67" r="3.95" fill="#000"/>
<circle cx="454.38" cy="312.71" r="3.95" fill="#000"/>
<circle cx="488.5" cy="313.95" r="3.95" fill="#000"/>
<circle cx="522.61" cy="319.74" r="3.95" fill="#000"/>
<circle cx="556.72" cy="318.08" r="3.95" fill="#000"/>
<rect x="331.5" y="323.26" width="7" height="7" fill="none" stroke="#000" stroke-width="1.9"/>
<rect x="348.56" y="302.18" width="7" height="7" fill="none" stroke="#000" stroke-width="1.9"/>
<rect x="382.67" y="274.62" width="7" height="7" fill="none" stroke="#000" stroke-width="1.9"/>
<rect x="416.77" y="292.53" width="7" height="7" fill="none" stroke="#000" stroke-width="1.9"/>
<rect x="485" y="247.61" width="7" height="7" fill="none" stroke="#000" stroke-width="1.9"/>
<rect x="553.22" y="292.12" width="7" height="7" fill="none" stroke="#000" stroke-width="1.9"/>
<text x="338.4" y="302.1" font-size="19" font-weight="bold" text-anchor="middle" stroke="#000" stroke-width="0.3">*</text>
<path d="M38.8 398.4V536.3H260.51" fill="none" stroke="#111" stroke-width="1.3"/>
<path d="M34.8 536.3H38.8" stroke="#111" stroke-width="1.2"/>
<text transform="translate(28.4,539.9) scale(1,1.04)" font-size="9.5" font-weight="normal" text-anchor="end" >0.0</text>
<path d="M34.8 508.9H38.8" stroke="#111" stroke-width="1.2"/>
<text transform="translate(28.4,512.5) scale(1,1.04)" font-size="9.5" font-weight="normal" text-anchor="end" >0.5</text>
<path d="M34.8 481.5H38.8" stroke="#111" stroke-width="1.2"/>
<text transform="translate(28.4,485.1) scale(1,1.04)" font-size="9.5" font-weight="normal" text-anchor="end" >1.0</text>
<path d="M34.8 454.1H38.8" stroke="#111" stroke-width="1.2"/>
<text transform="translate(28.4,457.7) scale(1,1.04)" font-size="9.5" font-weight="normal" text-anchor="end" >1.5</text>
<path d="M34.8 426.7H38.8" stroke="#111" stroke-width="1.2"/>
<text transform="translate(28.4,430.3) scale(1,1.04)" font-size="9.5" font-weight="normal" text-anchor="end" >2.0</text>
<path d="M34.8 402.5H38.8" stroke="#111" stroke-width="1.2"/>
<text transform="translate(28.4,402.9) scale(1,1.04)" font-size="9.5" font-weight="normal" text-anchor="end" >2.5</text>
<path d="M38.8 536.3V540.3" stroke="#111" stroke-width="1.2"/>
<text transform="translate(38.8,553.2) scale(1,1.04)" font-size="9.5" font-weight="normal" text-anchor="middle" >-15</text>
<path d="M55.85 536.3V540.3" stroke="#111" stroke-width="1.2"/>
<text transform="translate(55.85,553.2) scale(1,1.04)" font-size="9.5" font-weight="normal" text-anchor="middle" >0</text>
<path d="M72.91 536.3V540.3" stroke="#111" stroke-width="1.2"/>
<text transform="translate(72.91,553.2) scale(1,1.04)" font-size="9.5" font-weight="normal" text-anchor="middle" >15</text>
<path d="M89.97 536.3V540.3" stroke="#111" stroke-width="1.2"/>
<text transform="translate(89.97,553.2) scale(1,1.04)" font-size="9.5" font-weight="normal" text-anchor="middle" >30</text>
<path d="M124.08 536.3V540.3" stroke="#111" stroke-width="1.2"/>
<text transform="translate(124.08,553.2) scale(1,1.04)" font-size="9.5" font-weight="normal" text-anchor="middle" >60</text>
<path d="M158.19 536.3V540.3" stroke="#111" stroke-width="1.2"/>
<text transform="translate(158.19,553.2) scale(1,1.04)" font-size="9.5" font-weight="normal" text-anchor="middle" >90</text>
<path d="M192.3 536.3V540.3" stroke="#111" stroke-width="1.2"/>
<text transform="translate(192.3,553.2) scale(1,1.04)" font-size="9.5" font-weight="normal" text-anchor="middle" >120</text>
<path d="M226.4 536.3V540.3" stroke="#111" stroke-width="1.2"/>
<text transform="translate(226.4,553.2) scale(1,1.04)" font-size="9.5" font-weight="normal" text-anchor="middle" >150</text>
<path d="M260.51 536.3V540.3" stroke="#111" stroke-width="1.2"/>
<text transform="translate(260.51,553.2) scale(1,1.04)" font-size="9.5" font-weight="normal" text-anchor="middle" >180</text>
<text x="150.5" y="569.8" font-size="10.5" font-weight="bold" text-anchor="middle" >Time (minutes)</text>
<text transform="translate(8.4,467.6) rotate(-90)" font-size="10.8" font-weight="bold" text-anchor="middle">BA (<tspan font-weight="normal">µ</tspan>mol/L)</text>
<text x="0.1" y="404.7" font-size="17" font-weight="bold" text-anchor="start" >e</text>
<path d="M38.8 473.83V495.75M34.8 473.83H42.8M34.8 495.75H42.8" stroke="#000" stroke-opacity="0.58" stroke-width="1.1" fill="none"/>
<path d="M55.85 476.24V498.16M51.85 476.24H59.85M51.85 498.16H59.85" stroke="#000" stroke-opacity="0.58" stroke-width="1.1" fill="none"/>
<path d="M89.97 469.22V498.82M85.97 469.22H93.97M85.97 498.82H93.97" stroke="#000" stroke-opacity="0.58" stroke-width="1.1" fill="none"/>
<path d="M124.08 472.02V499.42M120.08 472.02H128.07M120.08 499.42H128.07" stroke="#000" stroke-opacity="0.58" stroke-width="1.1" fill="none"/>
<path d="M192.3 458.7V488.3M188.3 458.7H196.3M188.3 488.3H196.3" stroke="#000" stroke-opacity="0.58" stroke-width="1.1" fill="none"/>
<path d="M260.51 460.13V487.53M256.51 460.13H264.51M256.51 487.53H264.51" stroke="#000" stroke-opacity="0.58" stroke-width="1.1" fill="none"/>
<path d="M38.8 502.32V515.48M34.8 502.32H42.8M34.8 515.48H42.8" stroke="#000" stroke-opacity="0.58" stroke-width="1.1" fill="none"/>
<path d="M55.85 495.2V511.64M51.85 495.2H59.85M51.85 511.64H59.85" stroke="#000" stroke-opacity="0.58" stroke-width="1.1" fill="none"/>
<path d="M72.91 488.08V511.09M68.91 488.08H76.91M68.91 511.09H76.91" stroke="#000" stroke-opacity="0.58" stroke-width="1.1" fill="none"/>
<path d="M89.97 485.45V507.37M85.97 485.45H93.97M85.97 507.37H93.97" stroke="#000" stroke-opacity="0.58" stroke-width="1.1" fill="none"/>
<path d="M124.08 487.53V510.54M120.08 487.53H128.07M120.08 510.54H128.07" stroke="#000" stroke-opacity="0.58" stroke-width="1.1" fill="none"/>
<path d="M158.19 454.65V505.06M154.19 454.65H162.19M154.19 505.06H162.19" stroke="#000" stroke-opacity="0.58" stroke-width="1.1" fill="none"/>
<path d="M192.3 429.44V500.68M188.3 429.44H196.3M188.3 500.68H196.3" stroke="#000" stroke-opacity="0.58" stroke-width="1.1" fill="none"/>
<path d="M226.4 430.32V490.27M222.4 430.32H230.4M222.4 490.27H230.4" stroke="#000" stroke-opacity="0.58" stroke-width="1.1" fill="none"/>
<path d="M260.51 425.6V489.61M256.51 425.6H264.51M256.51 489.61H264.51" stroke="#000" stroke-opacity="0.58" stroke-width="1.1" fill="none"/>
<path d="M38.8 502.82V513.78M34.8 502.82H42.8M34.8 513.78H42.8" stroke="#000" stroke-opacity="0.58" stroke-width="1.1" fill="none"/>
<path d="M55.85 505.23V514M51.85 505.23H59.85M51.85 514H59.85" stroke="#000" stroke-opacity="0.58" stroke-width="1.1" fill="none"/>
<path d="M72.91 504.46V513.23M68.91 504.46H76.91M68.91 513.23H76.91" stroke="#000" stroke-opacity="0.58" stroke-width="1.1" fill="none"/>
<path d="M89.97 488.02V512.14M85.97 488.02H93.97M85.97 512.14H93.97" stroke="#000" stroke-opacity="0.58" stroke-width="1.1" fill="none"/>
<path d="M124.08 486.93V508.85M120.08 486.93H128.07M120.08 508.85H128.07" stroke="#000" stroke-opacity="0.58" stroke-width="1.1" fill="none"/>
<path d="M158.19 476.9V504.3M154.19 476.9H162.19M154.19 504.3H162.19" stroke="#000" stroke-opacity="0.58" stroke-width="1.1" fill="none"/>
<path d="M192.3 475.2V502.6M188.3 475.2H196.3M188.3 502.6H196.3" stroke="#000" stroke-opacity="0.58" stroke-width="1.1" fill="none"/>
<path d="M226.4 466.76V497.45M222.4 466.76H230.4M222.4 497.45H230.4" stroke="#000" stroke-opacity="0.58" stroke-width="1.1" fill="none"/>
<path d="M260.51 472.02V499.42M256.51 472.02H264.51M256.51 499.42H264.51" stroke="#000" stroke-opacity="0.58" stroke-width="1.1" fill="none"/>
<rect x="35.3" y="481.29" width="7" height="7" fill="#fff"/>
<rect x="52.35" y="483.7" width="7" height="7" fill="#fff"/>
<rect x="86.47" y="480.52" width="7" height="7" fill="#fff"/>
<rect x="120.58" y="482.22" width="7" height="7" fill="#fff"/>
<rect x="188.8" y="470" width="7" height="7" fill="#fff"/>
<rect x="257.01" y="470.33" width="7" height="7" fill="#fff"/>
<polyline points="38.8,484.79 55.85,487.2 89.97,484.02 124.08,485.72 192.3,473.5 260.51,473.83" fill="none" stroke="#000" stroke-width="1.9" />
<polyline points="38.8,508.9 55.85,503.42 72.91,499.58 89.97,496.41 124.08,499.04 158.19,479.86 192.3,465.06 226.4,460.29 260.51,457.61" fill="none" stroke="#000" stroke-width="1.9" />
<polyline points="38.8,508.3 55.85,509.62 72.91,508.85 89.97,500.08 124.08,497.89 158.19,490.6 192.3,488.9 226.4,482.11 260.51,485.72" fill="none" stroke="#000" stroke-width="1.9" stroke-dasharray="7.2 2.9"/>
<path d="M38.8 505.5L42.6 512.4H35Z" fill="#000"/>
<path d="M55.85 506.82L59.65 513.72H52.05Z" fill="#000"/>
<path d="M72.91 506.05L76.71 512.95H69.11Z" fill="#000"/>
<path d="M89.97 497.28L93.77 504.18H86.17Z" fill="#000"/>
<path d="M124.08 495.09L127.88 501.99H120.28Z" fill="#000"/>
<path d="M158.19 487.8L161.99 494.7H154.38Z" fill="#000"/>
<path d="M192.3 486.1L196.1 493H188.5Z" fill="#000"/>
<path d="M226.4 479.31L230.2 486.21H222.6Z" fill="#000"/>
<path d="M260.51 482.92L264.31 489.82H256.71Z" fill="#000"/>
<circle cx="38.8" cy="508.9" r="3.95" fill="#000"/>
<circle cx="55.85" cy="503.42" r="3.95" fill="#000"/>
<circle cx="72.91" cy="499.58" r="3.95" fill="#000"/>
<circle cx="89.97" cy="496.41" r="3.95" fill="#000"/>
<circle cx="124.08" cy="499.04" r="3.95" fill="#000"/>
<circle cx="158.19" cy="479.86" r="3.95" fill="#000"/>
<circle cx="192.3" cy="465.06" r="3.95" fill="#000"/>
<circle cx="226.4" cy="460.29" r="3.95" fill="#000"/>
<circle cx="260.51" cy="457.61" r="3.95" fill="#000"/>
<rect x="35.3" y="481.29" width="7" height="7" fill="none" stroke="#000" stroke-width="1.9"/>
<rect x="52.35" y="483.7" width="7" height="7" fill="none" stroke="#000" stroke-width="1.9"/>
<rect x="86.47" y="480.52" width="7" height="7" fill="none" stroke="#000" stroke-width="1.9"/>
<rect x="120.58" y="482.22" width="7" height="7" fill="none" stroke="#000" stroke-width="1.9"/>
<rect x="188.8" y="470" width="7" height="7" fill="none" stroke="#000" stroke-width="1.9"/>
<rect x="257.01" y="470.33" width="7" height="7" fill="none" stroke="#000" stroke-width="1.9"/>
<path d="M343.3 404.3V536.5H541" fill="none" stroke="#111" stroke-width="1.3"/>
<path d="M339.3 536.5H343.3" stroke="#111" stroke-width="1.2"/>
<text transform="translate(334.4,540.1) scale(1,1.04)" font-size="9.5" font-weight="normal" text-anchor="end" >0</text>
<path d="M339.3 492.6H343.3" stroke="#111" stroke-width="1.2"/>
<text transform="translate(334.4,496.2) scale(1,1.04)" font-size="9.5" font-weight="normal" text-anchor="end" >500</text>
<path d="M339.3 448.7H343.3" stroke="#111" stroke-width="1.2"/>
<text transform="translate(334.4,452.3) scale(1,1.04)" font-size="9.5" font-weight="normal" text-anchor="end" >1000</text>
<path d="M339.3 404.8H343.3" stroke="#111" stroke-width="1.2"/>
<text transform="translate(334.4,408.4) scale(1,1.04)" font-size="9.5" font-weight="normal" text-anchor="end" >1500</text>
<path d="M353 449.05V434.83M350 434.83H356" stroke="#111" stroke-width="1.4" fill="none"/>
<rect x="348" y="449.05" width="10" height="87.45" fill="#fff" stroke="#111" stroke-width="1.3"/>
<path d="M363 486.89V475.57M360 475.57H366" stroke="#111" stroke-width="1.4" fill="none"/>
<rect x="358" y="486.89" width="10" height="49.61" fill="#111" stroke="#111" stroke-width="1.3"/>
<path d="M373 448.88V433.42M370 433.42H376" stroke="#111" stroke-width="1.4" fill="none"/>
<rect x="368" y="448.88" width="10" height="87.62" fill="url(#hatch)" stroke="#111" stroke-width="1.3"/>
<text x="362.75" y="552.5" font-size="9.7" font-weight="normal" text-anchor="middle" >Total</text>
<path d="M392.45 466.61V455.72M389.45 455.72H395.45" stroke="#111" stroke-width="1.4" fill="none"/>
<rect x="387.45" y="466.61" width="10" height="69.89" fill="#fff" stroke="#111" stroke-width="1.3"/>
<path d="M402.45 503.84V497.43M399.45 497.43H405.45" stroke="#111" stroke-width="1.4" fill="none"/>
<rect x="397.45" y="503.84" width="10" height="32.66" fill="#111" stroke="#111" stroke-width="1.3"/>
<path d="M412.45 461.69V448.35M409.45 448.35H415.45" stroke="#111" stroke-width="1.4" fill="none"/>
<rect x="407.45" y="461.69" width="10" height="74.81" fill="url(#hatch)" stroke="#111" stroke-width="1.3"/>
<text x="402.6" y="552.5" font-size="9.7" font-weight="normal" text-anchor="middle" >Conj</text>
<path d="M431.9 474.51V463.8M428.9 463.8H434.9" stroke="#111" stroke-width="1.4" fill="none"/>
<rect x="426.9" y="474.51" width="10" height="61.99" fill="#fff" stroke="#111" stroke-width="1.3"/>
<path d="M441.9 507V501.73M438.9 501.73H444.9" stroke="#111" stroke-width="1.4" fill="none"/>
<rect x="436.9" y="507" width="10" height="29.5" fill="#111" stroke="#111" stroke-width="1.3"/>
<path d="M451.9 467.4V454.93M448.9 454.93H454.9" stroke="#111" stroke-width="1.4" fill="none"/>
<rect x="446.9" y="467.4" width="10" height="69.1" fill="url(#hatch)" stroke="#111" stroke-width="1.3"/>
<text x="441.95" y="552.5" font-size="9.7" font-weight="normal" text-anchor="middle" >G-conj</text>
<path d="M471.35 528.51V526.84M468.35 526.84H474.35" stroke="#111" stroke-width="1.4" fill="none"/>
<rect x="466.35" y="528.51" width="10" height="7.99" fill="#fff" stroke="#111" stroke-width="1.3"/>
<rect x="476.35" y="532.81" width="10" height="3.69" fill="#111" stroke="#111" stroke-width="1.3"/>
<path d="M491.35 530.44V528.51M488.35 528.51H494.35" stroke="#111" stroke-width="1.4" fill="none"/>
<rect x="486.35" y="530.44" width="10" height="6.06" fill="url(#hatch)" stroke="#111" stroke-width="1.3"/>
<text x="480.75" y="552.5" font-size="9.7" font-weight="normal" text-anchor="middle" >T-conj</text>
<path d="M510.8 518.68V514.73M507.8 514.73H513.8" stroke="#111" stroke-width="1.4" fill="none"/>
<rect x="505.8" y="518.68" width="10" height="17.82" fill="#fff" stroke="#111" stroke-width="1.3"/>
<path d="M520.8 519.99V512.97M517.8 512.97H523.8" stroke="#111" stroke-width="1.4" fill="none"/>
<rect x="515.8" y="519.99" width="10" height="16.51" fill="#111" stroke="#111" stroke-width="1.3"/>
<path d="M530.8 523.24V519.38M527.8 519.38H533.8" stroke="#111" stroke-width="1.4" fill="none"/>
<rect x="525.8" y="523.24" width="10" height="13.26" fill="url(#hatch)" stroke="#111" stroke-width="1.3"/>
<text x="520.65" y="552.5" font-size="9.7" font-weight="normal" text-anchor="middle" >Unconj</text>
<text x="441.5" y="570.5" font-size="10.5" font-weight="bold" text-anchor="middle" >Bile Acid Subset</text>
<text transform="translate(306.7,468.7) rotate(-90)" font-size="10.25" font-weight="bold" text-anchor="middle">AUC (<tspan font-weight="normal">µ</tspan>mol<tspan dy="-3">.</tspan><tspan dy="3">min</tspan><tspan dy="-3">.</tspan><tspan dy="3">L</tspan><tspan dy="-4" font-size="7">-1</tspan><tspan dy="4">)</tspan></text>
<text x="298.3" y="404" font-size="17" font-weight="bold" text-anchor="start" >f</text>
<text x="392.4" y="450.7" font-size="19" font-weight="bold" text-anchor="middle" stroke="#000" stroke-width="0.3">*</text>
<text x="412.9" y="432" font-size="14" font-weight="bold" text-anchor="middle" stroke="#000" stroke-width="0.6">†</text>
<text x="432.2" y="460.7" font-size="19" font-weight="bold" text-anchor="middle" stroke="#000" stroke-width="0.3">*</text>
<text x="450.9" y="439" font-size="14" font-weight="bold" text-anchor="middle" stroke="#000" stroke-width="0.6">†</text>
<path d="M332.6 599.5V731.4H530" fill="none" stroke="#111" stroke-width="1.3"/>
<path d="M328.6 731.4H332.6" stroke="#111" stroke-width="1.2"/>
<text transform="translate(324.8,735) scale(1,1.04)" font-size="9.5" font-weight="bold" text-anchor="end" >0</text>
<path d="M328.6 705.1H332.6" stroke="#111" stroke-width="1.2"/>
<text transform="translate(324.8,708.7) scale(1,1.04)" font-size="9.5" font-weight="bold" text-anchor="end" >2</text>
<path d="M328.6 678.8H332.6" stroke="#111" stroke-width="1.2"/>
<text transform="translate(324.8,682.4) scale(1,1.04)" font-size="9.5" font-weight="bold" text-anchor="end" >4</text>
<path d="M328.6 652.5H332.6" stroke="#111" stroke-width="1.2"/>
<text transform="translate(324.8,656.1) scale(1,1.04)" font-size="9.5" font-weight="bold" text-anchor="end" >6</text>
<path d="M328.6 626.2H332.6" stroke="#111" stroke-width="1.2"/>
<text transform="translate(324.8,629.8) scale(1,1.04)" font-size="9.5" font-weight="bold" text-anchor="end" >8</text>
<path d="M328.6 599.9H332.6" stroke="#111" stroke-width="1.2"/>
<text transform="translate(324.8,603.5) scale(1,1.04)" font-size="9.5" font-weight="bold" text-anchor="end" >10</text>
<path d="M342.6 660.39V646.85M339.6 646.85H345.6" stroke="#111" stroke-width="1.4" fill="none"/>
<rect x="337.6" y="660.39" width="10" height="71.01" fill="#fff" stroke="#111" stroke-width="1.3"/>
<path d="M352.6 691.69V681.96M349.6 681.96H355.6" stroke="#111" stroke-width="1.4" fill="none"/>
<rect x="347.6" y="691.69" width="10" height="39.71" fill="#111" stroke="#111" stroke-width="1.3"/>
<path d="M362.6 628.7V614.76M359.6 614.76H365.6" stroke="#111" stroke-width="1.4" fill="none"/>
<rect x="357.6" y="628.7" width="10" height="102.7" fill="url(#hatch)" stroke="#111" stroke-width="1.3"/>
<text x="354" y="744.3" font-size="9.7" font-weight="normal" text-anchor="middle" >Total</text>
<path d="M381.95 663.15V646.45M378.95 646.45H384.95" stroke="#111" stroke-width="1.4" fill="none"/>
<rect x="376.95" y="663.15" width="10" height="68.25" fill="#fff" stroke="#111" stroke-width="1.3"/>
<path d="M391.95 698.26V692.74M388.95 692.74H394.95" stroke="#111" stroke-width="1.4" fill="none"/>
<rect x="386.95" y="698.26" width="10" height="33.14" fill="#111" stroke="#111" stroke-width="1.3"/>
<path d="M401.95 629.09V615.55M398.95 615.55H404.95" stroke="#111" stroke-width="1.4" fill="none"/>
<rect x="396.95" y="629.09" width="10" height="102.31" fill="url(#hatch)" stroke="#111" stroke-width="1.3"/>
<text x="393.5" y="744.3" font-size="9.7" font-weight="normal" text-anchor="middle" >Conj</text>
<path d="M421.3 671.96V660.39M418.3 660.39H424.3" stroke="#111" stroke-width="1.4" fill="none"/>
<rect x="416.3" y="671.96" width="10" height="59.44" fill="#fff" stroke="#111" stroke-width="1.3"/>
<path d="M431.3 702.08V697.6M428.3 697.6H434.3" stroke="#111" stroke-width="1.4" fill="none"/>
<rect x="426.3" y="702.08" width="10" height="29.32" fill="#111" stroke="#111" stroke-width="1.3"/>
<path d="M441.3 638.17V625.94M438.3 625.94H444.3" stroke="#111" stroke-width="1.4" fill="none"/>
<rect x="436.3" y="638.17" width="10" height="93.23" fill="url(#hatch)" stroke="#111" stroke-width="1.3"/>
<text x="432.85" y="744.3" font-size="9.7" font-weight="normal" text-anchor="middle" >G-conj</text>
<path d="M460.65 723.25V720.62M457.65 720.62H463.65" stroke="#111" stroke-width="1.4" fill="none"/>
<rect x="455.65" y="723.25" width="10" height="8.15" fill="#fff" stroke="#111" stroke-width="1.3"/>
<rect x="465.65" y="727.06" width="10" height="4.34" fill="#111" stroke="#111" stroke-width="1.3"/>
<path d="M480.65 722.33V720.62M477.65 720.62H483.65" stroke="#111" stroke-width="1.4" fill="none"/>
<rect x="475.65" y="722.33" width="10" height="9.07" fill="url(#hatch)" stroke="#111" stroke-width="1.3"/>
<text x="470.6" y="744.3" font-size="9.7" font-weight="normal" text-anchor="middle" >T-conj</text>
<path d="M500 724.3V721.67M497 721.67H503" stroke="#111" stroke-width="1.4" fill="none"/>
<rect x="495" y="724.3" width="10" height="7.1" fill="#fff" stroke="#111" stroke-width="1.3"/>
<path d="M510 717.86V709.57M507 709.57H513" stroke="#111" stroke-width="1.4" fill="none"/>
<rect x="505" y="717.86" width="10" height="13.54" fill="#111" stroke="#111" stroke-width="1.3"/>
<path d="M520 723.25V719.56M517 719.56H523" stroke="#111" stroke-width="1.4" fill="none"/>
<rect x="515" y="723.25" width="10" height="8.15" fill="url(#hatch)" stroke="#111" stroke-width="1.3"/>
<text x="510.5" y="744.3" font-size="9.7" font-weight="normal" text-anchor="middle" >Unconj</text>
<text x="434" y="764.5" font-size="10.5" font-weight="bold" text-anchor="middle" >Bile Acid Subset</text>
<text transform="translate(304.8,665.3) rotate(-90)" font-size="10.7" font-weight="bold" text-anchor="middle">Maximum rise (<tspan font-weight="normal">µ</tspan>mol/L)</text>
<text x="296.3" y="595.5" font-size="17" font-weight="bold" text-anchor="start" >g</text>
<text x="360.7" y="601" font-size="14" font-weight="bold" text-anchor="middle" stroke="#000" stroke-width="0.6">‡</text>
<text x="400.2" y="601" font-size="14" font-weight="bold" text-anchor="middle" stroke="#000" stroke-width="0.6">‡</text>
<text x="439.8" y="608" font-size="14" font-weight="bold" text-anchor="middle" stroke="#000" stroke-width="0.6">‡</text>
<text x="380.8" y="639.8" font-size="19" font-weight="bold" text-anchor="middle" stroke="#000" stroke-width="0.3">*</text>
<text x="419.4" y="653.5" font-size="19" font-weight="bold" text-anchor="middle" stroke="#000" stroke-width="0.3">*</text>
<text x="477.8" y="702.2" font-size="14" font-weight="bold" text-anchor="middle" stroke="#000" stroke-width="0.6">†</text>
<path d="M86.3 655.6H102.7" stroke="#000" stroke-width="1.6"/>
<rect x="90.1" y="651.1" width="8.8" height="9.2" fill="none" stroke="#000" stroke-width="1.7"/>
<text x="112.2" y="659.9" font-size="11.7" font-weight="normal" text-anchor="start" >Lean</text>
<rect x="186.4" y="651.4" width="16" height="8.4" fill="#fff" stroke="#111" stroke-width="1.3"/>
<path d="M86.3 672.4H102.7" stroke="#000" stroke-width="1.6"/>
<circle cx="94.4" cy="672.4" r="4.2" fill="#000"/>
<text x="112.2" y="676.7" font-size="11.7" font-weight="normal" text-anchor="start" >Obese</text>
<rect x="186.4" y="668.2" width="16" height="8.4" fill="#111" stroke="#111" stroke-width="1.3"/>
<path d="M86.3 690.2H102.7" stroke="#000" stroke-width="1.6"/>
<path d="M94.6 685.6L99.3 694.5H89.9Z" fill="#000"/>
<text x="112.2" y="694.5" font-size="11.7" font-weight="normal" text-anchor="start" >Post-RYGB</text>
<rect x="186.4" y="686" width="16" height="8.4" fill="url(#hatch)" stroke="#111" stroke-width="1.3"/>
</svg></body></html>
